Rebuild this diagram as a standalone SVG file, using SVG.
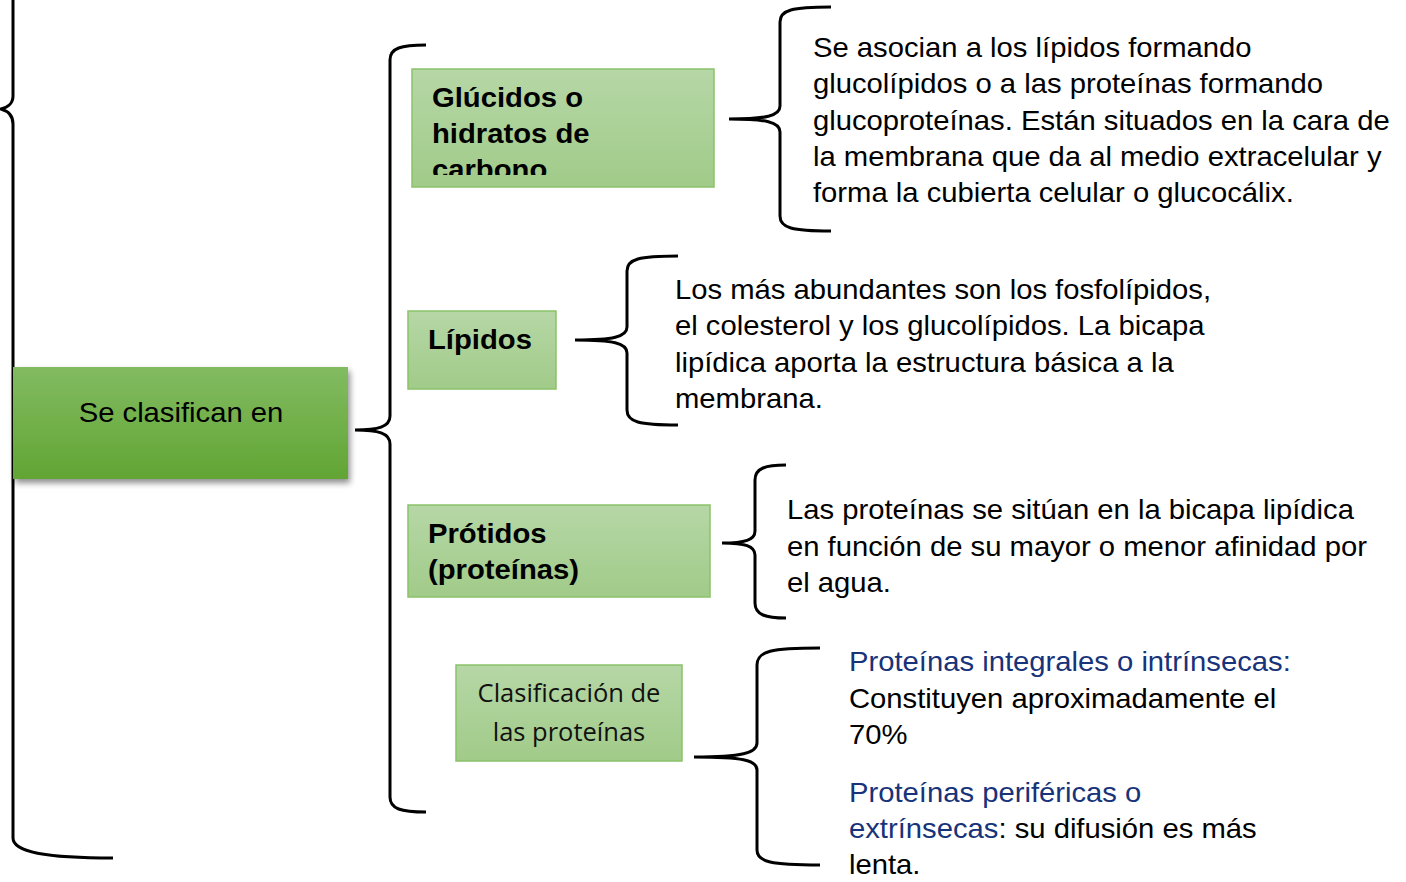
<svg xmlns="http://www.w3.org/2000/svg" width="1406" height="882" viewBox="0 0 1406 882">
<defs>
<linearGradient id="gMain" x1="0" y1="0" x2="0" y2="1">
<stop offset="0" stop-color="#82bb61"/>
<stop offset="1" stop-color="#62a534"/>
</linearGradient>
<linearGradient id="gLight" x1="0" y1="0" x2="0" y2="1">
<stop offset="0" stop-color="#b6d7a6"/>
<stop offset="1" stop-color="#a1cb89"/>
</linearGradient>
<filter id="sh" x="-10%" y="-10%" width="130%" height="140%">
<feGaussianBlur in="SourceAlpha" stdDeviation="3"/>
<feOffset dx="2" dy="4" result="b"/>
<feComponentTransfer><feFuncA type="linear" slope="0.45"/></feComponentTransfer>
<feMerge><feMergeNode/><feMergeNode in="SourceGraphic"/></feMerge>
</filter>
<clipPath id="clipG"><rect x="412" y="69" width="302" height="106"/></clipPath>
</defs>
<style>
.brace{fill:none;stroke:#000;stroke-width:3;stroke-linecap:butt}
.box{fill:url(#gLight);stroke:#8bc26a;stroke-width:1.5}
.bold{font-family:"Liberation Sans",Arial,sans-serif;font-weight:bold;font-size:27px;fill:#000}
.txt{font-family:"Liberation Sans",Arial,sans-serif;font-size:27px;fill:#000}
.blue{fill:#17337a}
.cal{font-family:"Open Sans","Noto Sans",sans-serif;font-size:25.5px;fill:#111}
</style>

<g id="connectors">
<path class="brace" d="M13,-10 L13,96 C13,104 8,107 1,109 C8,111 13,115 13,124 L13,838 C13,852 45,858 113,858"/>
<path class="brace" d="M426,45 C401,45 390,48 390,60 L390,416 C390,427 378,430 355,430 C378,430 390,433 390,444 L390,797 C390,809 401,812 426,812"/>
<path class="brace" d="M831,7 C792,7 780,10 780,22 L780,106 C780,116 766,119 729,119 C766,119 780,122 780,132 L780,216 C780,228 792,231 831,231"/>
<path class="brace" d="M678,256 C639,256 627,259 627,271 L627,327 C627,337 613,340 575,340 C613,340 627,343 627,353 L627,410 C627,422 639,425 678,425"/>
<path class="brace" d="M786,465 C766,465 755,468 755,480 L755,531 C755,540 745,543 722,543 C745,543 755,546 755,555 L755,603 C755,615 766,618 786,618"/>
<path class="brace" d="M820,648 C771,648 757,651 757,665 L757,743 C757,753 742,757 694,757 C742,757 757,760 757,770 L757,850 C757,862 771,865 820,865"/>
</g>

<g id="node-main">
<rect x="13" y="367" width="335" height="112" fill="url(#gMain)" filter="url(#sh)"/>
<text class="txt" x="181" y="422" text-anchor="middle" font-size="28.5" transform="matrix(1.083,0,0,1,-15.02,0)">Se clasifican en</text>
</g>

<g id="node-glucidos">
<rect class="box" x="412" y="69" width="302" height="118"/>
<g clip-path="url(#clipG)">
<g transform="matrix(1.083,0,0,1,-35.86,0)">
<text class="bold" x="432" y="107">Glúcidos o</text>
<text class="bold" x="432" y="143">hidratos de</text>
<text class="bold" x="432" y="179">carbono</text>
</g>
</g>
</g>

<g id="node-glucidos-desc" transform="matrix(1.083,0,0,1,-67.48,0)">
<text class="txt" x="813" y="57">Se asocian a los lípidos formando</text>
<text class="txt" x="813" y="93">glucolípidos o a las proteínas formando</text>
<text class="txt" x="813" y="130">glucoproteínas. Están situados en la cara de</text>
<text class="txt" x="813" y="166">la membrana que da al medio extracelular y</text>
<text class="txt" x="813" y="202">forma la cubierta celular o glucocálix.</text>
</g>

<g id="node-lipidos">
<rect class="box" x="408" y="311" width="148" height="78"/>
<text class="bold" x="428" y="349" transform="matrix(1.083,0,0,1,-35.52,0)">Lípidos</text>
</g>

<g id="node-lipidos-desc" transform="matrix(1.083,0,0,1,-56.03,0)">
<text class="txt" x="675" y="299">Los más abundantes son los fosfolípidos,</text>
<text class="txt" x="675" y="335">el colesterol y los glucolípidos. La bicapa</text>
<text class="txt" x="675" y="372">lipídica aporta la estructura básica a la</text>
<text class="txt" x="675" y="408">membrana.</text>
</g>

<g id="node-protidos">
<rect class="box" x="408" y="505" width="302" height="92"/>
<g transform="matrix(1.083,0,0,1,-35.52,0)">
<text class="bold" x="428" y="543">Prótidos</text>
<text class="bold" x="428" y="579">(proteínas)</text>
</g>
</g>

<g id="node-protidos-desc" transform="matrix(1.083,0,0,1,-65.32,0)">
<text class="txt" x="787" y="519">Las proteínas se sitúan en la bicapa lipídica</text>
<text class="txt" x="787" y="556">en función de su mayor o menor afinidad por</text>
<text class="txt" x="787" y="592">el agua.</text>
</g>

<g id="node-clasificacion">
<rect class="box" x="456" y="665" width="226" height="96"/>
<text class="cal" x="569" y="702" text-anchor="middle">Clasificación de</text>
<text class="cal" x="569" y="741" text-anchor="middle">las proteínas</text>
</g>

<g id="node-clasificacion-desc" transform="matrix(1.083,0,0,1,-70.47,0)">
<text class="txt blue" x="849" y="671">Proteínas integrales o intrínsecas:</text>
<text class="txt" x="849" y="708">Constituyen aproximadamente el</text>
<text class="txt" x="849" y="744">70%</text>
<text class="txt blue" x="849" y="802">Proteínas periféricas o</text>
<text class="txt" x="849" y="838"><tspan class="blue">extrínsecas</tspan>: su difusión es más</text>
<text class="txt" x="849" y="874">lenta.</text>
</g>
</svg>
